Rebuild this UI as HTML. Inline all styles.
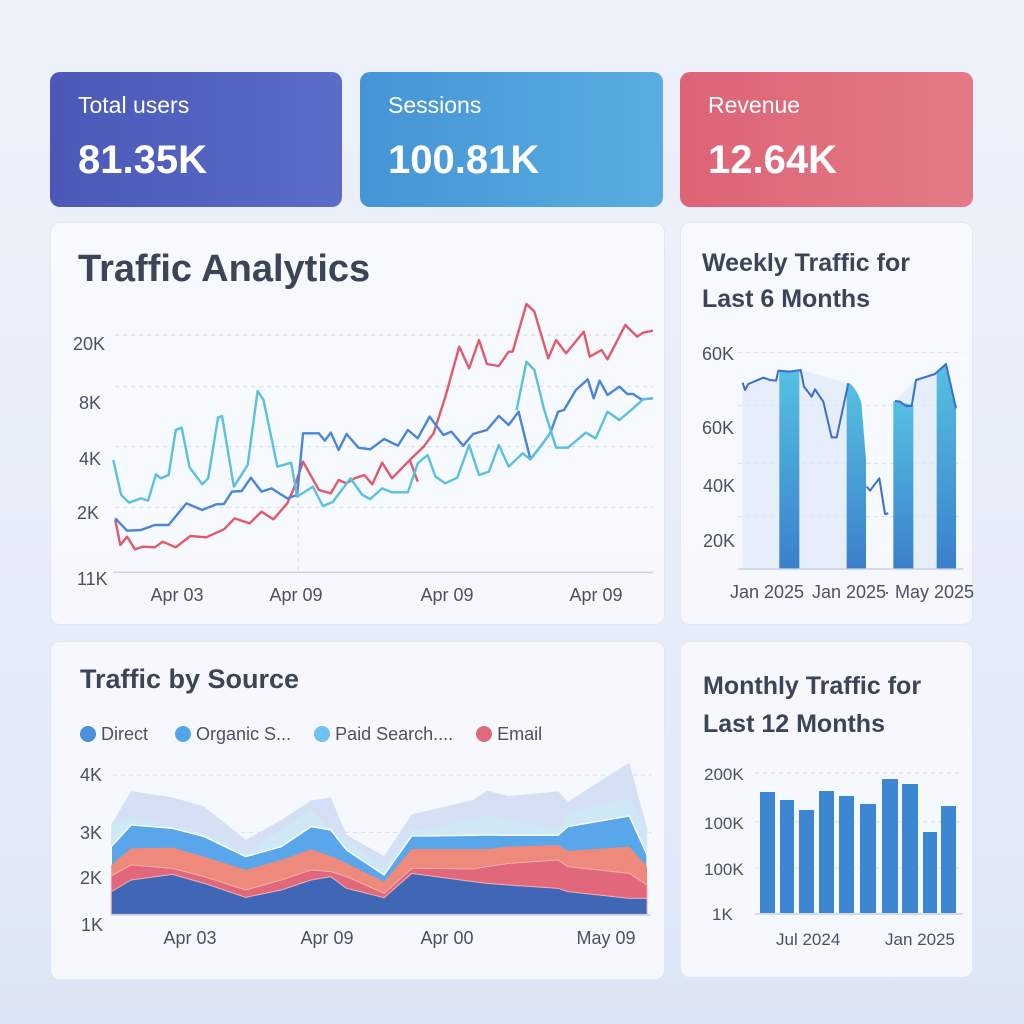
<!DOCTYPE html>
<html><head><meta charset="utf-8"><style>
*{margin:0;padding:0;box-sizing:border-box}
body{width:1024px;height:1024px;overflow:hidden;background:linear-gradient(180deg,#eef2fa 0%,#e6ecf8 60%,#dde6f6 100%);font-family:"Liberation Sans",sans-serif;position:relative;color:#3b4356}
.a{position:absolute}
.kpi{border-radius:10px;color:#fff}
.kpi .t{position:absolute;left:28px;top:20px;font-size:23px}
.kpi .v{position:absolute;left:28px;top:66px;font-size:40px;font-weight:bold}
.p{background:rgba(247,249,253,0.9);border-radius:10px;border:1px solid #e2e8f2}
.l{position:absolute;font-size:18px;color:#4a5163;white-space:nowrap;line-height:20px}
.c{transform:translateX(-50%)}
svg *{vector-effect:non-scaling-stroke}
</style></head><body>
<div class="a kpi" style="left:50px;top:72px;width:292px;height:135px;background:linear-gradient(90deg,#4b58b8,#5a6cc8)"><div class="t">Total users</div><div class="v">81.35K</div></div>
<div class="a kpi" style="left:360px;top:72px;width:303px;height:135px;background:linear-gradient(90deg,#4594d6,#59ade0)"><div class="t">Sessions</div><div class="v">100.81K</div></div>
<div class="a kpi" style="left:680px;top:72px;width:293px;height:135px;background:linear-gradient(90deg,#dd6376,#e47a86)"><div class="t">Revenue</div><div class="v">12.64K</div></div>

<div class="a p" style="left:50px;top:222px;width:615px;height:403px"></div>
<div class="a p" style="left:680px;top:222px;width:293px;height:403px"></div>
<div class="a p" style="left:50px;top:641px;width:615px;height:339px"></div>
<div class="a p" style="left:680px;top:641px;width:293px;height:337px"></div>

<div class="a" style="left:78px;top:248px;font-size:38px;font-weight:bold;color:#3c4558">Traffic Analytics</div>
<div class="a" style="left:702px;top:245px;font-size:25px;font-weight:bold;line-height:36px;color:#3c4558">Weekly Traffic for<br>Last 6 Months</div>
<div class="a" style="left:80px;top:664px;font-size:27px;font-weight:bold;color:#3c4558">Traffic by Source</div>
<div class="a" style="left:703px;top:667px;font-size:25px;font-weight:bold;line-height:38px;color:#3c4558">Monthly Traffic for<br>Last 12 Months</div>

<!-- main chart -->
<svg class="a" style="left:50px;top:290px" width="620" height="320" viewBox="0 0 1568 960" preserveAspectRatio="none">
<g stroke="#d3daea" stroke-width="1" stroke-dasharray="4 4"><line x1="165" y1="135" x2="1525" y2="135"/><line x1="165" y1="290" x2="1525" y2="290"/><line x1="165" y1="470" x2="1525" y2="470"/><line x1="165" y1="652" x2="1525" y2="652"/><line x1="628" y1="540" x2="628" y2="845"/></g>
<line x1="160" y1="847" x2="1525" y2="847" stroke="#c8d2e6" stroke-width="1.5"/>
<g fill="none" stroke-width="2.4" stroke-linejoin="round">
<polyline stroke="#e05a6c" points="165,690 178,765 195,740 215,778 235,770 265,772 285,755 318,772 355,738 395,742 440,718 467,685 505,700 535,665 565,688 600,640 615,600 640,515 680,600 710,610 730,570 750,580 770,565 795,555 815,583 840,518 865,565 910,510 930,575"/>
<polyline stroke="#e05a6c" points="910,510 945,470 970,430 1000,320 1035,170 1060,235 1085,150 1105,222 1135,228 1160,185 1170,185 1205,42 1225,65 1260,205 1280,150 1305,190 1350,125 1365,200 1395,180 1410,208 1455,105 1485,140 1500,128 1525,122"/>
<polyline stroke="#4a86d8" points="165,685 195,722 230,720 265,705 300,705 345,640 385,660 420,643 440,642 460,605 485,603 508,563 535,605 560,595 600,625 625,615 640,430 680,430 695,452 710,428 730,480 750,432 780,473 810,478 845,447 880,467 905,420 930,445 960,380 995,435 1015,425 1045,467 1070,432 1105,420 1135,378 1160,405 1185,365 1215,508 1240,470 1265,430 1285,365 1300,360 1330,300 1360,268 1375,325 1390,272 1410,315 1440,290 1460,312 1475,312 1495,328 1525,325"/>
<polyline stroke="#5bc0e0" points="160,510 180,615 200,638 230,625 248,632 268,553 280,565 300,555 318,420 333,413 353,532 385,583 400,565 425,383 435,378 465,590 500,525 525,303 540,330 575,530 610,518 625,620 665,590 690,648 715,636 760,565 790,615 810,627 840,595 865,607 905,607 930,520 955,495 975,560 1000,580 1030,563 1060,465 1085,555 1110,545 1135,465 1160,530 1195,490 1215,508 1240,470 1265,430"/>
<polyline stroke="#5bc0e0" points="1180,360 1205,215 1225,240 1250,360 1280,473 1310,473 1355,428 1380,445 1410,365 1440,390 1470,360 1500,328 1525,325"/>
</g>
</svg>
<div class="l" style="left:73px;top:334px">20K</div>
<div class="l" style="left:79px;top:393px">8K</div>
<div class="l" style="left:79px;top:449px">4K</div>
<div class="l" style="left:77px;top:503px">2K</div>
<div class="l" style="left:77px;top:569px">11K</div>
<div class="l c" style="left:177px;top:585px">Apr 03</div>
<div class="l c" style="left:296px;top:585px">Apr 09</div>
<div class="l c" style="left:447px;top:585px">Apr 09</div>
<div class="l c" style="left:596px;top:585px">Apr 09</div>

<!-- weekly -->
<svg class="a" style="left:680px;top:340px" width="300" height="270" viewBox="0 0 900 810">
<defs><linearGradient id="g1" x1="0" y1="0" x2="0" y2="1"><stop offset="0" stop-color="#56c0e2"/><stop offset="1" stop-color="#3a80cc"/></linearGradient></defs>
<g stroke="#d3daea" stroke-width="1" stroke-dasharray="4 4"><line x1="175" y1="38" x2="850" y2="38"/><line x1="175" y1="197" x2="850" y2="197"/><line x1="175" y1="370" x2="850" y2="370"/><line x1="175" y1="530" x2="850" y2="530"/></g>
<polygon fill="#dfe9f6" opacity="0.7" points="188,128 195,150 205,132 250,113 288,122 295,92 362,90 505,130 545,200 545,685 188,685"/>
<polygon fill="#dfe9f6" opacity="0.7" points="645,183 708,120 798,72 828,205 828,685 645,685"/>
<line x1="175" y1="687" x2="850" y2="687" stroke="#c8d2e6" stroke-width="1.5"/>
<rect x="298" y="92" width="60" height="593" fill="url(#g1)"/>
<path d="M500,130 L510,130 C530,150 545,180 545,200 L558,360 L558,685 L500,685Z" fill="url(#g1)"/>
<path d="M640,183 L700,195 L700,685 L640,685Z" fill="url(#g1)"/>
<path d="M770,100 L798,72 L828,205 L828,685 L770,685Z" fill="url(#g1)"/>
<g fill="none" stroke="#3a6fc8" stroke-width="2" stroke-linejoin="round">
<polyline points="188,128 195,150 205,132 250,113 270,120 288,122 295,92 330,95 362,90 372,140 395,170 405,148 430,185 455,292 470,292 505,130"/>
<polyline points="560,440 570,452 598,415 615,522 625,520"/>
<polyline points="645,183 660,185 678,198 695,198 708,120 740,110 765,102 798,72 828,205"/>
</g>
</svg>
<div class="l" style="left:702px;top:344px">60K</div>
<div class="l" style="left:702px;top:418px">60K</div>
<div class="l" style="left:703px;top:476px">40K</div>
<div class="l" style="left:703px;top:531px">20K</div>
<div class="l" style="left:730px;top:582px">Jan 2025</div>
<div class="l" style="left:812px;top:582px">Jan 2025</div>
<div class="l" style="left:884px;top:582px">· May 2025</div>

<!-- legend -->
<div class="a" style="left:80px;top:724px;font-size:18px;color:#4a5163;white-space:nowrap">
<span style="display:inline-block;width:16px;height:16px;border-radius:50%;background:#4a90dc;vertical-align:-2px"></span> Direct
<span style="display:inline-block;width:16px;height:16px;border-radius:50%;background:#52a6e8;vertical-align:-2px;margin-left:22px"></span> Organic S...
<span style="display:inline-block;width:16px;height:16px;border-radius:50%;background:#6cc2f0;vertical-align:-2px;margin-left:18px"></span> Paid Search....
<span style="display:inline-block;width:16px;height:16px;border-radius:50%;background:#e06a7a;vertical-align:-2px;margin-left:18px"></span> Email</div>

<!-- area -->
<svg class="a" style="left:50px;top:720px" width="620" height="240" viewBox="0 0 1568 720" preserveAspectRatio="none">
<line x1="160" y1="165" x2="1520" y2="165" stroke="#d3daea" stroke-width="1" stroke-dasharray="4 4"/>
<line x1="160" y1="337" x2="1520" y2="337" stroke="#d3daea" stroke-width="1" stroke-dasharray="4 4"/>
<polygon fill="#d6e0f4" points="155,315 205,213 310,232 390,260 495,360 585,300 660,242 710,232 750,345 845,408 915,283 945,275 1070,240 1105,212 1160,228 1285,214 1310,245 1465,128 1510,325 1510,583 155,583"/>
<polygon fill="#cfe8f6" points="155,315 205,290 310,320 390,340 495,395 585,330 660,270 710,330 750,360 845,445 915,330 945,330 1070,300 1105,285 1160,300 1285,330 1310,280 1465,235 1510,340 1510,583 155,583"/>
<polygon fill="#5aa6ea" stroke="#fff" stroke-width="1.3" points="155,380 205,315 310,325 390,350 495,410 585,380 660,320 710,330 750,390 845,465 915,348 945,348 1070,346 1105,345 1160,346 1285,346 1310,320 1465,288 1510,405 1510,583 155,583"/>
<polygon fill="#ee8a7c" points="155,435 205,385 310,383 390,410 495,450 585,420 660,388 710,408 750,430 845,485 915,387 945,387 1070,387 1105,387 1160,380 1285,375 1310,393 1465,380 1510,440 1510,583 155,583"/>
<polygon fill="#e0687a" stroke="#f4b0b0" stroke-width="1" points="155,468 205,435 310,445 390,470 495,510 585,480 660,450 710,455 750,470 845,520 915,445 945,445 1070,447 1105,440 1160,430 1285,420 1310,440 1465,460 1510,495 1510,583 155,583"/>
<polygon fill="#3f67b6" stroke="#f4b0b0" stroke-width="1" points="155,515 205,480 310,463 390,490 495,532 585,510 660,480 710,470 750,505 845,533 915,460 945,465 1070,485 1105,490 1160,495 1285,505 1310,515 1465,535 1510,535 1510,583 155,583"/>
<line x1="155" y1="585" x2="1520" y2="585" stroke="#c8d2e6" stroke-width="1.5"/>
</svg>
<div class="l" style="left:80px;top:765px">4K</div>
<div class="l" style="left:80px;top:823px">3K</div>
<div class="l" style="left:80px;top:868px">2K</div>
<div class="l" style="left:81px;top:915px">1K</div>
<div class="l c" style="left:190px;top:928px">Apr 03</div>
<div class="l c" style="left:327px;top:928px">Apr 09</div>
<div class="l c" style="left:447px;top:928px">Apr 00</div>
<div class="l c" style="left:606px;top:928px">May 09</div>

<!-- monthly -->
<svg class="a" style="left:680px;top:641px" width="293" height="337" viewBox="0 0 293 337">
<g stroke="#d3daea" stroke-width="1" stroke-dasharray="4 4"><line x1="75" y1="132" x2="283" y2="132"/><line x1="75" y1="181" x2="283" y2="181"/><line x1="75" y1="227" x2="283" y2="227"/></g>
<g fill="#3c86d2">
<rect x="80" y="151" width="15" height="121"/><rect x="100" y="159" width="14" height="113"/><rect x="119" y="169" width="15" height="103"/><rect x="139" y="150" width="15" height="122"/><rect x="159" y="155" width="15" height="117"/><rect x="180" y="163" width="16" height="109"/><rect x="202" y="138" width="16" height="134"/><rect x="222" y="143" width="16" height="129"/><rect x="243" y="191" width="14" height="81"/><rect x="261" y="165" width="15" height="107"/>
</g>
<line x1="75" y1="273" x2="283" y2="273" stroke="#c8d2e6" stroke-width="1.5"/>
<g fill="#4a5163" font-size="17" font-family="Liberation Sans">
<text x="24" y="139">200K</text><text x="24" y="188">100K</text><text x="24" y="234">100K</text><text x="32" y="279">1K</text>
<text x="96" y="304">Jul 2024</text><text x="205" y="304">Jan 2025</text>
</g>
</svg>
</body></html>
